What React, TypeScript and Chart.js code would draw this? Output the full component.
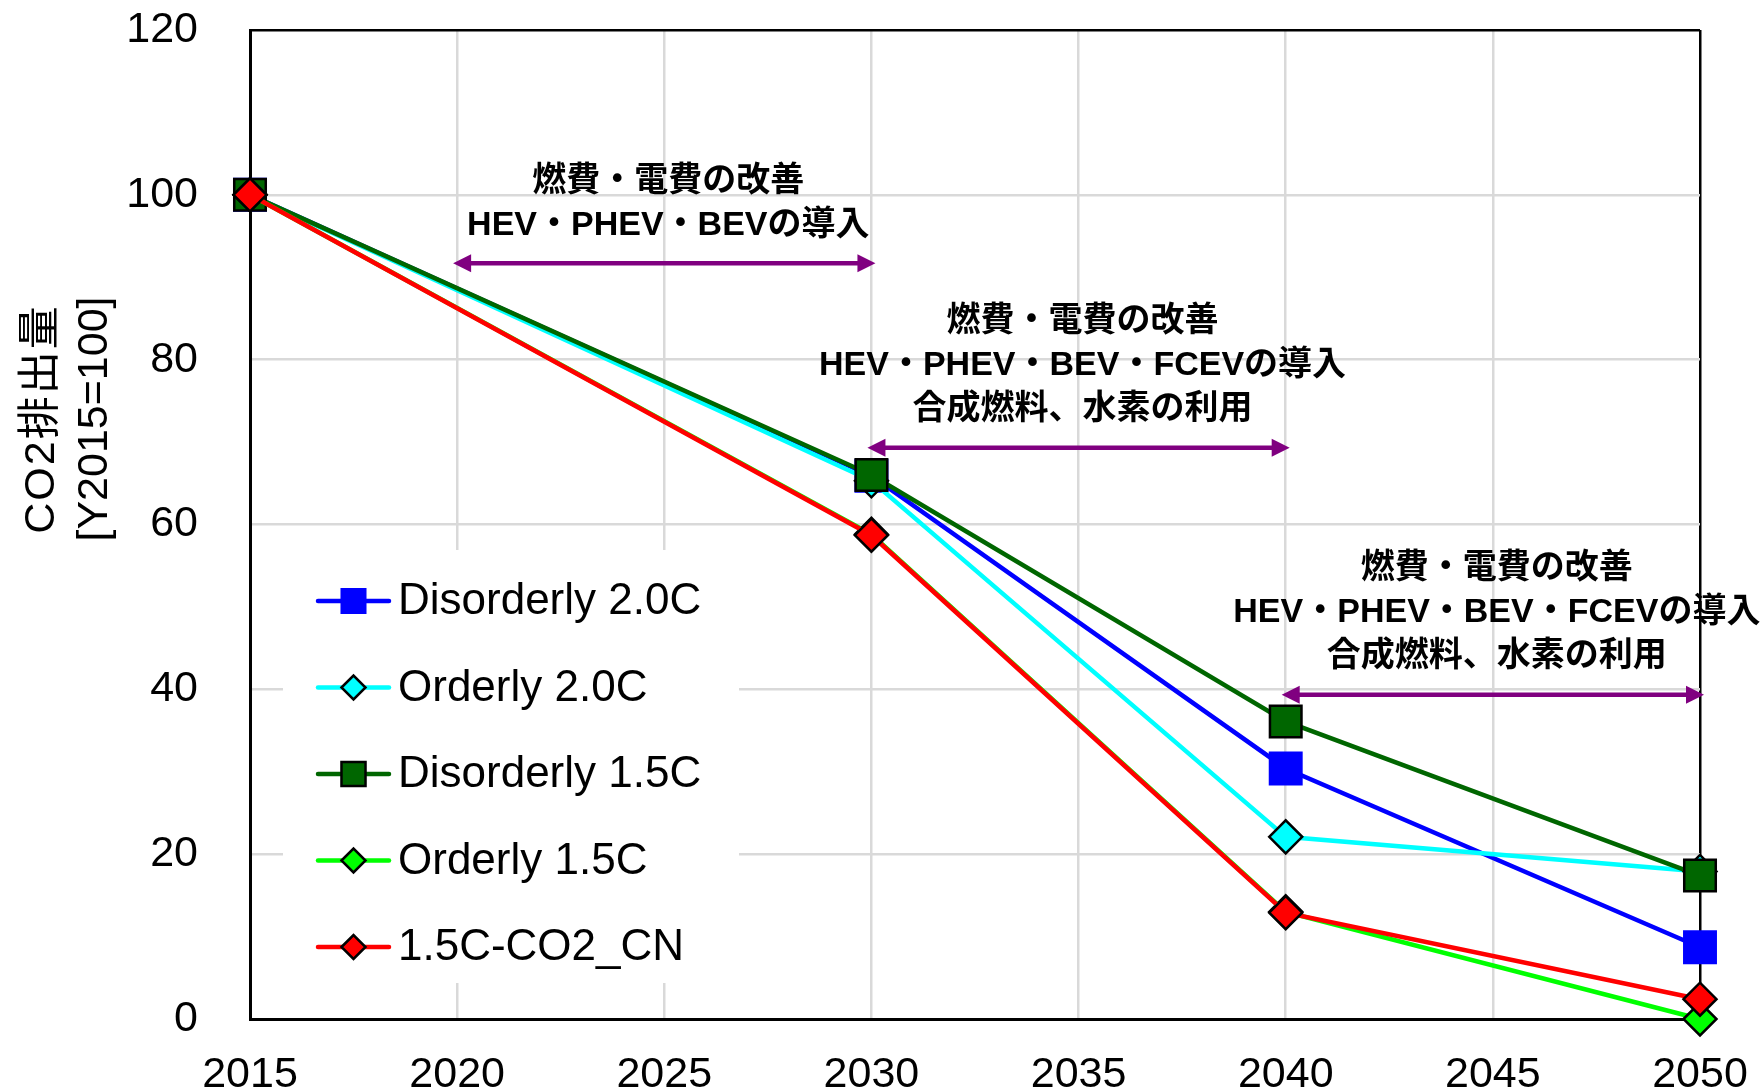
import React, { useEffect, useRef } from "react";
import { Chart, registerables } from "chart.js";

Chart.register(...registerables);

// ---------------- data ----------------
const years = [2015, 2030, 2040, 2050];
const seriesNames = ["Disorderly 2.0C", "Orderly 2.0C", "Disorderly 1.5C", "Orderly 1.5C", "1.5C-CO2_CN"];
const disorderly20 = [100, 65.9, 30.4, 8.7];
const orderly20 = [100, 65.3, 22.1, 17.9];
const disorderly15 = [100, 66.0, 36.1, 17.4];
const orderly15 = [100, 58.8, 13.0, 0];
const co2cn = [100, 58.7, 12.9, 2.4];
const seriesValues = [disorderly20, orderly20, disorderly15, orderly15, co2cn];

const xTicks = [2015, 2020, 2025, 2030, 2035, 2040, 2045, 2050];
const yTicks = [0, 20, 40, 60, 80, 100, 120];

const yTitle = ["CO2排出量", "[Y2015=100]"];

const arrowFrom = [2020, 2030, 2040];
const arrowTo = [2030, 2040, 2050];
const arrowLevel = [91.7, 69.3, 39.35];
const arrowTexts = [
  ["燃費・電費の改善", "HEV・PHEV・BEVの導入"],
  ["燃費・電費の改善", "HEV・PHEV・BEV・FCEVの導入", "合成燃料、水素の利用"],
  ["燃費・電費の改善", "HEV・PHEV・BEV・FCEVの導入", "合成燃料、水素の利用"],
];

// ---------------- styles ----------------
const colors = ["#0000FF", "#00FFFF", "#006600", "#00FF00", "#FF0000"];
const pointStyles = ["rect", "rectRot", "rect", "rectRot", "rectRot"];
const pointRadii = [24, 16.5, 22.3, 16.5, 16.5];
const pointBorderColors = ["#0000FF", "#000000", "#000000", "#000000", "#000000"];
const pointBorderWidths = [0, 2.5, 2.5, 2.5, 2.5];
const legendRadii = [18.4, 12, 17, 12, 12];

const FONT = '"Liberation Sans", Arial, "Noto Sans CJK JP", sans-serif';

function drawMarker(ctx: CanvasRenderingContext2D, style: string, x: number, y: number, r: number, fill: string, stroke: string, bw: number) {
  ctx.beginPath();
  if (style === "rect") {
    const s = r * Math.SQRT1_2;
    ctx.rect(x - s, y - s, 2 * s, 2 * s);
  } else {
    ctx.moveTo(x - r, y);
    ctx.lineTo(x, y - r);
    ctx.lineTo(x + r, y);
    ctx.lineTo(x, y + r);
    ctx.closePath();
  }
  ctx.fillStyle = fill;
  ctx.fill();
  if (bw > 0) {
    ctx.strokeStyle = stroke;
    ctx.lineWidth = bw;
    ctx.stroke();
  }
}

const overlayPlugin = {
  id: "overlay",
  afterDraw(chart: any) {
    const ctx: CanvasRenderingContext2D = chart.ctx;
    const xs = chart.scales.x;
    const ys = chart.scales.y;
    const area = chart.chartArea;

    // y axis title (rotated, two lines)
    ctx.save();
    ctx.fillStyle = "#000";
    ctx.font = `43px ${FONT}`;
    ctx.textAlign = "center";
    ctx.textBaseline = "alphabetic";
    ctx.translate(53.5, area.top + 389);
    ctx.rotate(-Math.PI / 2);
    (ctx as any).letterSpacing = "2px";
    ctx.fillText(yTitle[0], 0, 0);
    (ctx as any).letterSpacing = "0px";
    ctx.fillText(yTitle[1], 0, 53.5);
    ctx.restore();

    // legend (inside plot, white background)
    ctx.save();
    const lgLeft = 283, lgTop = 550, lgRight = 739, lgBottom = 983;
    ctx.fillStyle = "#fff";
    ctx.fillRect(lgLeft, lgTop, lgRight - lgLeft, lgBottom - lgTop);
    seriesNames.forEach((name, i) => {
      const y = 601 + i * 86.5;
      ctx.beginPath();
      ctx.strokeStyle = colors[i];
      ctx.lineWidth = 4.5;
      ctx.lineCap = "round";
      ctx.moveTo(318, y);
      ctx.lineTo(389, y);
      ctx.stroke();
      drawMarker(ctx, pointStyles[i], 353.5, y, legendRadii[i], colors[i], pointBorderColors[i], pointBorderWidths[i]);
      ctx.fillStyle = "#000";
      ctx.font = `44px ${FONT}`;
      ctx.textAlign = "left";
      ctx.textBaseline = "middle";
      ctx.fillText(name, 398, y + 1);
    });
    ctx.restore();

    // arrows + annotation text
    ctx.save();
    arrowFrom.forEach((from, k) => {
      const x1 = xs.getPixelForValue(from) - 4;
      const x2 = xs.getPixelForValue(arrowTo[k]) + 4;
      const y = ys.getPixelForValue(arrowLevel[k]);
      const head = 18, hw = 9;
      ctx.strokeStyle = "#800080";
      ctx.fillStyle = "#800080";
      ctx.lineWidth = 4.5;
      ctx.lineCap = "butt";
      ctx.beginPath();
      ctx.moveTo(x1 + head - 2, y);
      ctx.lineTo(x2 - head + 2, y);
      ctx.stroke();
      ctx.beginPath();
      ctx.moveTo(x1, y);
      ctx.lineTo(x1 + head, y - hw);
      ctx.lineTo(x1 + head, y + hw);
      ctx.closePath();
      ctx.fill();
      ctx.beginPath();
      ctx.moveTo(x2, y);
      ctx.lineTo(x2 - head, y - hw);
      ctx.lineTo(x2 - head, y + hw);
      ctx.closePath();
      ctx.fill();

      const lines = arrowTexts[k];
      const cx = (x1 + x2) / 2 + 4;
      ctx.fillStyle = "#000";
      ctx.font = `bold 34px ${FONT}`;
      ctx.textAlign = "center";
      ctx.textBaseline = "middle";
      lines.forEach((t, j) => {
        const ly = y - 38 - 44 * (lines.length - 1 - j);
        ctx.fillText(t, cx, ly);
      });
    });
    ctx.restore();
  },
};

export default function App() {
  const ref = useRef<HTMLCanvasElement>(null);
  useEffect(() => {
    document.body.style.margin = "0";
    Chart.defaults.font.family = FONT;
    Chart.defaults.color = "#000";
    const datasets = seriesNames.map((name, i) => ({
      label: name,
      data: years.map((yr, j) => ({ x: yr, y: seriesValues[i][j] })),
      borderColor: colors[i],
      backgroundColor: colors[i],
      borderWidth: 4.5,
      pointStyle: pointStyles[i] as any,
      pointRadius: pointRadii[i],
      pointHoverRadius: pointRadii[i],
      pointBackgroundColor: colors[i],
      pointBorderColor: pointBorderColors[i],
      pointBorderWidth: pointBorderWidths[i],
      tension: 0,
      clip: false as any,
      order: 4 - i,
    }));
    const chart = new Chart(ref.current!, {
      type: "line",
      data: { datasets },
      plugins: [overlayPlugin],
      options: {
        responsive: false,
        maintainAspectRatio: false,
        animation: false,
        devicePixelRatio: 1,
        layout: { autoPadding: false, padding: { left: 0, top: 30, right: 61, bottom: 0 } },
        plugins: { legend: { display: false }, tooltip: { enabled: false }, title: { display: false } },
        scales: {
          x: {
            type: "linear",
            min: xTicks[0],
            max: xTicks[xTicks.length - 1],
            afterBuildTicks: (s: any) => {
              s.ticks = xTicks.map((v) => ({ value: v }));
            },
            ticks: {
              padding: 30,
              font: { size: 43 },
              color: "#000",
              maxRotation: 0,
              autoSkip: false,
              callback: (v: any) => String(v),
            },
            grid: {
              drawTicks: false,
              color: (c: any) => (c.tick && c.tick.value === 2050 ? "#000" : "#d9d9d9"),
              lineWidth: 2.5,
            },
            border: { color: "#000", width: 3 },
            afterFit: (s: any) => {
              s.height = 72;
              s.paddingLeft = 0;
              s.paddingRight = 0;
              s.paddingTop = 0;
              s.paddingBottom = 0;
            },
          },
          y: {
            type: "linear",
            min: yTicks[0],
            max: yTicks[yTicks.length - 1],
            afterBuildTicks: (s: any) => {
              s.ticks = yTicks.map((v) => ({ value: v }));
            },
            ticks: {
              padding: 52,
              font: { size: 43 },
              color: "#000",
              callback: (v: any) => String(v),
            },
            grid: {
              drawTicks: false,
              color: (c: any) => (c.tick && c.tick.value === 120 ? "#000" : "#d9d9d9"),
              lineWidth: 2.5,
            },
            border: { color: "#000", width: 3 },
            afterFit: (s: any) => {
              s.width = 250;
              s.paddingLeft = 0;
              s.paddingRight = 0;
              s.paddingTop = 0;
              s.paddingBottom = 0;
            },
          },
        },
      },
    } as any);
    return () => chart.destroy();
  }, []);
  return <canvas ref={ref} width={1761} height={1091} style={{ display: "block", width: "1761px", height: "1091px" }} />;
}
